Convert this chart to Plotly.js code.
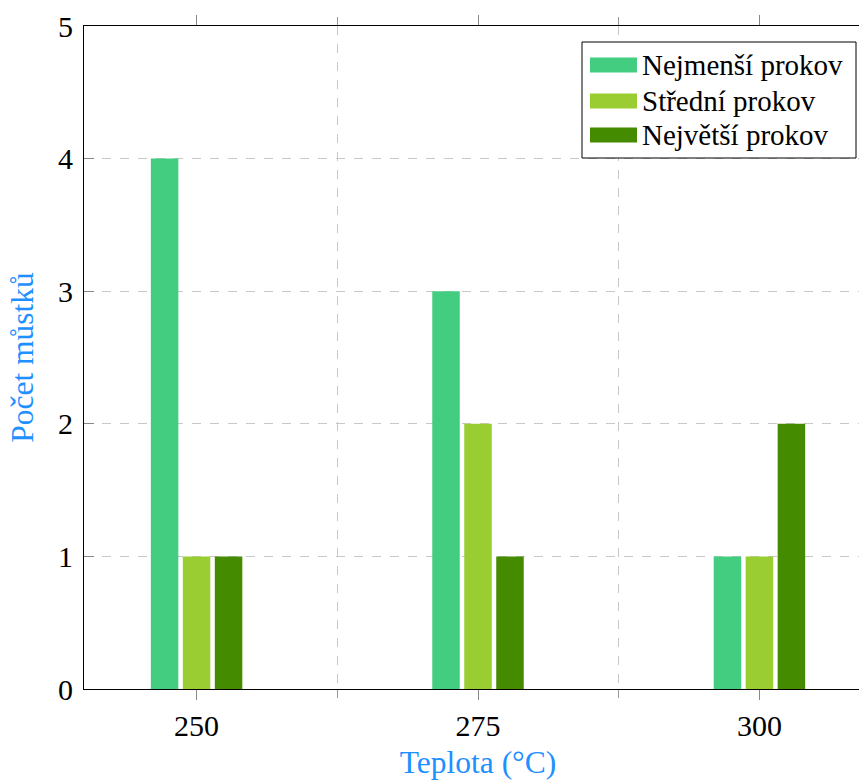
<!DOCTYPE html>
<html>
<head>
<meta charset="utf-8">
<script src="https://cdn.plot.ly/plotly-3.0.1.min.js"></script>
<style>
html,body{margin:0;padding:0;overflow:hidden;background:#fff;}
#chart{width:900px;height:780px;}
</style>
</head>
<body>
<div id="chart"></div>
<script>
// Data
const temperatures = [250, 275, 300];
const seriesNames = ["Nejmenší prokov", "Střední prokov", "Největší prokov"];
const smallest = [4, 3, 1];
const medium = [1, 2, 1];
const largest = [1, 1, 2];
const seriesColors = ["#43CD80", "#9ACD32", "#458B00"];
const yTicks = [0, 1, 2, 3, 4, 5];
const xTitle = "Teplota (°C)";
const yTitle = "Počet můstků";

const seriesValues = [smallest, medium, largest];
const FONT = "Liberation Serif";

const traces = seriesValues.map((vals, i) => ({
  type: "bar",
  x: temperatures,
  y: vals,
  name: seriesNames[i],
  marker: {color: seriesColors[i], line: {width: 0}},
  showlegend: false,
  hoverinfo: "x+y+name"
}));

// plot geometry (pixels) used for the hand-drawn legend box
const W = 900, H = 780, L = 84, R = 28, T = 26, B = 91;
const pw = W - L - R, ph = H - T - B;
const px = v => (v - L) / pw;
const py = v => 1 - (v - T) / ph;

const shapes = [
  {type: "rect", xref: "paper", yref: "paper",
   x0: px(582), x1: px(856), y0: py(42), y1: py(158),
   line: {color: "#000", width: 1}, fillcolor: "#fff", layer: "above"}
];
const annotations = [];
const rowCenters = [65, 101, 135];
seriesNames.forEach((n, i) => {
  shapes.push({type: "rect", xref: "paper", yref: "paper",
    x0: px(590), x1: px(637), y0: py(rowCenters[i] - 7.5), y1: py(rowCenters[i] + 7.5),
    line: {width: 0}, fillcolor: seriesColors[i], layer: "above"});
  annotations.push({xref: "paper", yref: "paper", x: px(640), y: py(rowCenters[i]),
    xanchor: "left", yanchor: "middle", text: n, showarrow: false,
    font: {family: FONT, size: 29, color: "#000"}});
});

const layout = {
  width: W, height: H,
  margin: {l: L, r: R, t: T, b: B, pad: 0},
  paper_bgcolor: "#fff", plot_bgcolor: "#fff",
  barmode: "group", bargap: 0.659, bargroupgap: 0.14,
  showlegend: false,
  font: {family: FONT, size: 30, color: "#000"},
  xaxis: {
    range: [240, 310],
    tickmode: "array", tickvals: temperatures, ticktext: temperatures.map(String),
    ticks: "outside", ticklen: 10, tickcolor: "#888", tickwidth: 1,
    showgrid: false, zeroline: false,
    showline: true, linecolor: "#000", linewidth: 1, mirror: "ticks",
    tickfont: {family: FONT, size: 30, color: "#000"},
    minor: {tickvals: [262.5, 287.5], ticks: "outside", ticklen: 8, tickcolor: "#999",
            showgrid: true, gridcolor: "#c8c8c8", griddash: "dash", gridwidth: 1},
    title: {text: xTitle, font: {family: FONT, size: 31.5, color: "#1E90FF"}, standoff: 11},
    fixedrange: true
  },
  yaxis: {
    range: [0, 5],
    tickmode: "array", tickvals: yTicks,
    ticks: "inside", ticklen: 10, tickcolor: "#888", tickwidth: 1,
    showgrid: true, gridcolor: "#c8c8c8", griddash: "dash", gridwidth: 1,
    zeroline: false,
    showline: true, linecolor: "#000", linewidth: 1, mirror: "ticks",
    tickfont: {family: FONT, size: 30, color: "#000"},
    ticklabelstandoff: 4,
    title: {text: yTitle, font: {family: FONT, size: 31.5, color: "#1E90FF"}, standoff: 14},
    fixedrange: true
  },
  shapes: shapes,
  annotations: annotations
};

Plotly.newPlot("chart", traces, layout, {displayModeBar: false, staticPlot: true});
</script>
</body>
</html>
